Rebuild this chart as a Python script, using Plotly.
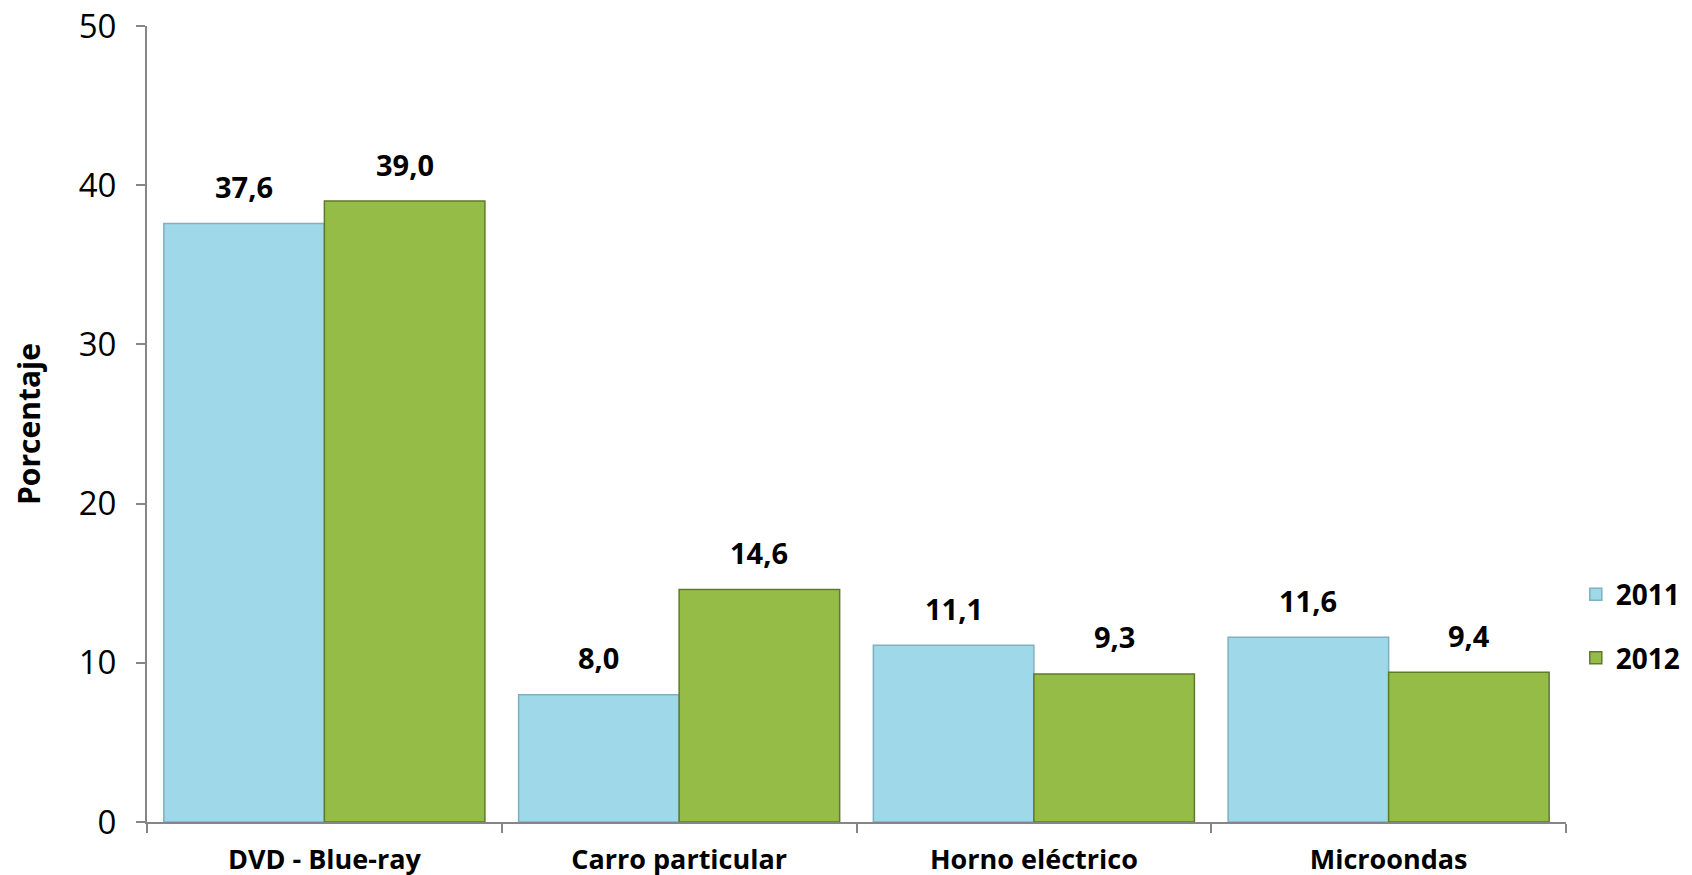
import plotly.graph_objects as go

# Data
categories = ["DVD - Blue-ray", "Carro particular", "Horno eléctrico", "Microondas"]
years = ["2011", "2012"]
values_2011 = [37.6, 8.0, 11.1, 11.6]
values_2012 = [39.0, 14.6, 9.3, 9.4]

colors = {"2011": "#9fd8e9", "2012": "#96bc48"}
edges = {"2011": "#7fb0c0", "2012": "#5f7a2a"}

# page body has an 8px margin, so the figure is a bit smaller than the window
W, H = 1684, 867
margin = dict(l=139, r=126, t=18, b=53)
bargap = 0.095

fig = go.Figure()

for year, vals in zip(years, [values_2011, values_2012]):
    fig.add_trace(go.Bar(
        x=categories, y=vals, name=year, legendgroup=year,
        marker=dict(color=colors[year], line=dict(color=edges[year], width=1.5)),
    ))

# value labels above bars (offset left/right of the category centre)
cat_w = (W - margin["l"] - margin["r"]) / len(categories)
bar_w = cat_w * (1 - bargap) / 2
for i, vals in enumerate([values_2011, values_2012]):
    shift = (i - 0.5) * bar_w
    for c, v in zip(categories, vals):
        fig.add_annotation(
            x=c, y=v, text=f"{v:.1f}".replace(".", ","), showarrow=False,
            xshift=shift, yshift=37, yanchor="middle",
            font=dict(family="Open Sans", size=29, color="black", weight="bold"),
        )

fig.update_layout(
    width=W, height=H,
    barmode="group", bargap=bargap, bargroupgap=0,
    plot_bgcolor="white", paper_bgcolor="white",
    margin=margin,
    font=dict(family="Open Sans", color="black"),
    legend=dict(
        xref="container", yref="container",
        x=0.931, y=0.287, xanchor="left", yanchor="middle",
        font=dict(size=28, weight="bold"),
        tracegroupgap=24,
    ),
)

fig.update_yaxes(
    range=[0, 50], dtick=10, automargin=False, ticklabeloverflow="allow",
    showline=True, linecolor="#868686", linewidth=2,
    ticks="outside", ticklen=9, tickcolor="#868686", tickwidth=2,
    tickfont=dict(size=33), ticklabelstandoff=13, showgrid=False, zeroline=False,
    title=dict(text="Porcentaje", font=dict(size=30, weight="bold"), standoff=40),
)
fig.update_xaxes(
    automargin=False,
    showline=True, linecolor="#868686", linewidth=2,
    ticks="outside", tickson="boundaries", ticklen=9, tickcolor="#868686", tickwidth=2,
    tickfont=dict(size=27, weight="bold"), ticklabelstandoff=13,
)

fig.write_html("out.html")
